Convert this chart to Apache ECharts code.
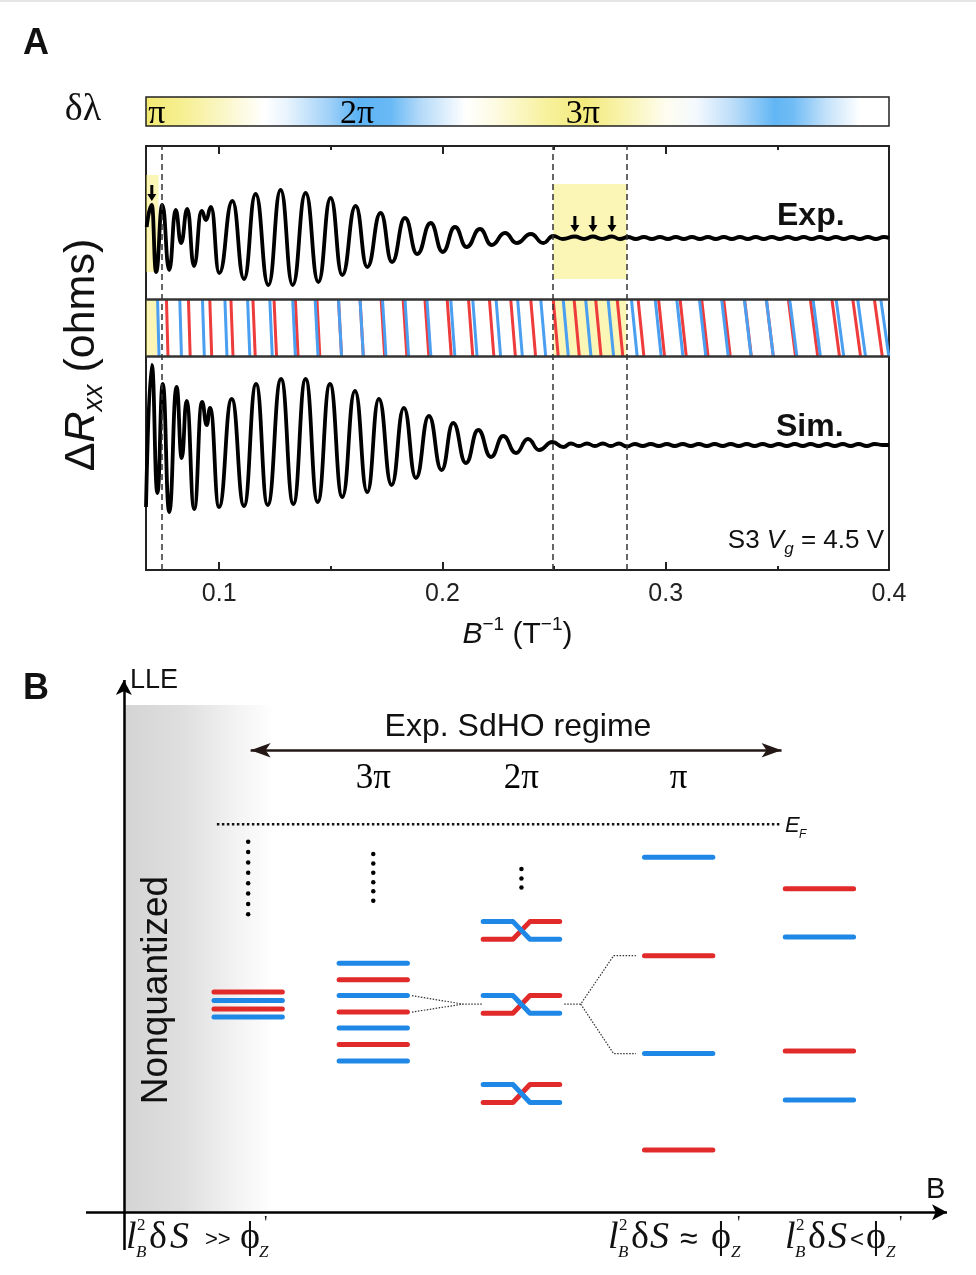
<!DOCTYPE html>
<html><head><meta charset="utf-8">
<script src="https://cdn.jsdelivr.net/npm/echarts@6/dist/echarts.min.js"></script>
<style>html,body{margin:0;padding:0;background:#fff}#c{width:976px;height:1275px}</style>
</head><body><div id="c"></div>
<script>
// ================= Panel A data =================
const xTickLabels = [0.1, 0.2, 0.3, 0.4];
const xMinorTicks = [0.15, 0.25, 0.35];
const topMajorTicks = [0.1, 0.2, 0.3];
const phaseLabels = ['π', '2π', '3π'];
const phaseLabelX = [0.0721, 0.1617, 0.2629];
// ΔRxx traces (B^-1 in T^-1, arbitrary ΔR units)
const expData = [
[0.0675,343],[0.0698,365],[0.0717,298],[0.0745,365],[0.0776,300],[0.0805,360],[0.0829,327],[0.0857,361],[0.0887,304],[0.0921,359],[0.0941,350],[0.0963,363],[0.1000,297],[0.1059,369],[0.1111,291],[0.1163,376],[0.1220,285],[0.1275,380],[0.1329,285],[0.1387,377],[0.1444,288],[0.1499,372],[0.1551,295],[0.1611,364],[0.1663,303],[0.1723,357],[0.1774,308],[0.1832,352],[0.1887,316],[0.1947,347],[0.2001,318],[0.2056,343],[0.2108,323],[0.2168,341],[0.2220,325],[0.2280,337],[0.2332,327],[0.2396,336],[0.2451,327],[0.2496,334],
[0.2539,331],[0.2593,333.5],[0.2634,331],[0.2674,333.5],[0.2714,331],[0.2759,333.5],[0.2795,331],[0.2831,333],[0.2866,331],[0.2902,333],[0.2938,331],[0.2974,333],[0.3010,331],[0.3045,333],[0.3081,331],[0.3117,333],[0.3153,331],[0.3189,333],[0.3224,331],[0.3260,333],[0.3296,331],[0.3332,333],[0.3368,331],[0.3403,333],[0.3439,331],[0.3475,333],[0.3511,331],[0.3547,333],[0.3582,331],[0.3618,333],[0.3654,331],[0.3690,333],[0.3726,331],[0.3762,333],[0.3798,331],[0.3833,333],[0.3869,331],[0.3905,333],[0.3941,331],[0.3977,333],[0.4000,332]
];
const simData = [
[0.0672,63],[0.0698,205],[0.0723,77],[0.0747,186],[0.0776,58],[0.0809,183],[0.0832,112],[0.0854,169],[0.0888,61],[0.0923,168],[0.0944,145],[0.0959,162],[0.0999,63],[0.1056,171],[0.1111,64],[0.1165,186],[0.1217,65],[0.1277,191],[0.1332,66],[0.1387,191],[0.1441,68],[0.1496,186],[0.1551,73],[0.1608,179],[0.1663,78],[0.1715,171],[0.1772,85],[0.1827,162],[0.1881,92],[0.1939,154],[0.1996,100],[0.2048,147],[0.2105,107],[0.2160,140],[0.2217,113],[0.2272,134],[0.2329,117],[0.2383,131],[0.2433,120],[0.2492,128],[0.2541,123],
[0.2575,126.5],[0.2611,124],[0.2647,126.5],[0.2683,124],[0.2718,126.5],[0.2754,124],[0.2790,126.5],[0.2826,123.5],[0.2861,126],[0.2897,124],[0.2933,126],[0.2969,124],[0.3005,126],[0.3040,124],[0.3076,126],[0.3112,124],[0.3148,126],[0.3184,124],[0.3219,126],[0.3255,124],[0.3291,126],[0.3327,124],[0.3363,126],[0.3398,124],[0.3434,126],[0.3470,124],[0.3506,126],[0.3542,124],[0.3578,126],[0.3614,124],[0.3649,126],[0.3685,124],[0.3721,126],[0.3757,124],[0.3793,126],[0.3828,124],[0.3864,126],[0.3900,124],[0.3936,126],[0.3972,125],[0.4000,125]
];
// Landau-level positions (B^-1) of the two spin species
const redLevelsInvB = [0.0767,0.0866,0.0962,0.1057,0.1156,0.1251,0.1347,0.1444,0.1541,0.1638,0.1733,0.1832,0.1930,0.2030,0.2126,0.2220,0.2316,0.2406,0.2507,0.2601,0.2698,0.2795,0.2889,0.2981,0.3078,0.3175,0.3274,0.3368,0.3466,0.3565,0.3664,0.3761,0.3855,0.3952];
const blueLevelsInvB = [0.0727,0.0827,0.0929,0.1030,0.1132,0.1232,0.1335,0.1436,0.1541,0.1638,0.1739,0.1840,0.1939,0.2046,0.2145,0.2250,0.2347,0.2451,0.2552,0.2653,0.2754,0.2859,0.2966,0.3063,0.3165,0.3265,0.3367,0.3466,0.3571,0.3676,0.3780,0.3877,0.3981];
const dashedLinesX = [0.0742, 0.2496, 0.2825];
const expArrows = [[0.0698, 377], [0.2593, 346], [0.2674, 346], [0.2759, 346]];
const highlightRanges = [[0.0672, 0.0728], [0.2496, 0.2825]];

// ================= Panel B data (schematic units) =================
const columnLabels = ['3π', '2π', 'π'];
const columnLabelX = [30.3, 48.3, 67.4];
const col0Red = [41.4, 38.2], col0Blue = [39.8, 36.7];
const col1Blue = [46.8, 40.7, 34.6, 28.4], col1Red = [43.7, 37.6, 31.5];
const col2Pairs = [[54.6, 51.3], [40.7, 37.4], [24.0, 20.6]];
const col3Blue = [66.7, 29.8], col3Red = [48.2, 11.7];
const col4Red = [60.8, 30.3], col4Blue = [51.7, 21.1];
const columnX = [15.1, 30.3, 48.3, 67.4, 84.5];
const dotsCol0 = [69.6, 67.7, 65.7, 63.8, 61.8, 59.9, 57.9, 56.0];
const dotsCol1 = [67.3, 65.5, 63.8, 62.0, 60.3, 58.5];
const dotsCol2 = [64.5, 62.7, 61.0];
const fermiLine = [[11.3, 72.9], [79.9, 72.9]];
const connA1 = [[35.0, 40.7], [41.2, 39.1], [43.6, 39.1]];
const connA2 = [[35.0, 37.6], [41.2, 39.1]];
const connB1 = [[53.5, 39.1], [55.5, 39.1], [59.5, 48.2], [62.2, 48.2]];
const connB2 = [[55.5, 39.1], [59.5, 29.8], [62.2, 29.8]];
const regimeArrow = [[15.4, 86.8], [79.9, 86.8]];

// ================= styling =================
const SANS = '"Liberation Sans", Arial, Helvetica, sans-serif';
const SERIF = '"Liberation Serif", "Times New Roman", "DejaVu Serif", serif';
const RED = '#ee3b3b', BLUE = '#4a9ff0';
const RED_B = '#e12a2a', BLUE_B = '#1f88e6';
const XMIN = 0.0672, XMAX = 0.4;
const BAND_TOP = 271, BAND_BOT = 214;
const BX_MIN = -4.6, BY_MIN = -7.1;

const levelData = [];
col0Red.forEach(e => levelData.push([columnX[0], e, 0]));
col0Blue.forEach(e => levelData.push([columnX[0], e, 1]));
col1Red.forEach(e => levelData.push([columnX[1], e, 0]));
col1Blue.forEach(e => levelData.push([columnX[1], e, 1]));
col3Red.forEach(e => levelData.push([columnX[3], e, 0]));
col3Blue.forEach(e => levelData.push([columnX[3], e, 1]));
col4Red.forEach(e => levelData.push([columnX[4], e, 0]));
col4Blue.forEach(e => levelData.push([columnX[4], e, 1]));

const stripeData = redLevelsInvB.map(v => [v, 0]).concat(blueLevelsInvB.map(v => [v, 1]));

function txt(x, y, s, size, o) {
  o = o || {};
  return { type: 'text', x: x, y: y, rotation: o.rot || 0, silent: true, z: 50,
    style: Object.assign({ text: s, fontSize: size, fontFamily: o.ff || SERIF,
      fontStyle: o.it ? 'italic' : 'normal', fontWeight: o.bold ? 'bold' : 'normal',
      fill: o.color || '#111', align: o.align || 'left', verticalAlign: 'middle' }, o.style || {}) };
}
function formula(xs, mid, rel) {
  // xs: x positions of [l, 2/B, δ, S, rel, ϕ, ', Z]
  return [
    txt(xs[0], mid, 'l', 38, { it: true }),
    txt(xs[1], mid - 12, '2', 17),
    txt(xs[1] - 1, mid + 15, 'B', 17, { it: true }),
    txt(xs[2], mid, 'δ', 38),
    txt(xs[3], mid, 'S', 38, { it: true }),
    txt(xs[4], mid + 2, rel[0], rel[1], { ff: SANS }),
    txt(xs[5], mid, 'ϕ', 38),
    txt(xs[6], mid - 14, "'", 19),
    txt(xs[7], mid + 15, 'Z', 17, { it: true })
  ];
}

const chart = echarts.init(document.getElementById('c'));
const option = {
  animation: false,
  backgroundColor: '#fff',
  grid: [
    { left: 146, right: 87, top: 97, height: 29, show: true, borderColor: '#222', borderWidth: 1.5,
      outerBoundsMode: 'none',
      backgroundColor: { type: 'linear', x: 0, y: 0, x2: 1, y2: 0, colorStops: [
        { offset: 0, color: '#f3ea72' }, { offset: 0.05, color: '#f6ef92' }, { offset: 0.10, color: '#faf6c2' },
        { offset: 0.16, color: '#ffffff' }, { offset: 0.19, color: '#e9f4fd' }, { offset: 0.25, color: '#9ccff8' },
        { offset: 0.285, color: '#5cb3f4' }, { offset: 0.33, color: '#69b9f5' }, { offset: 0.37, color: '#b4daf9' },
        { offset: 0.43, color: '#ffffff' }, { offset: 0.47, color: '#fdfbe2' }, { offset: 0.54, color: '#f7f19c' },
        { offset: 0.59, color: '#f3ea7c' }, { offset: 0.64, color: '#f8f3ac' }, { offset: 0.70, color: '#fefdf0' },
        { offset: 0.74, color: '#f4f9fe' }, { offset: 0.79, color: '#bbddf9' }, { offset: 0.845, color: '#62b6f4' },
        { offset: 0.87, color: '#70bcf5' }, { offset: 0.915, color: '#c4e2fa' }, { offset: 0.96, color: '#ffffff' },
        { offset: 1, color: '#ffffff' } ] } },
    { left: 146, right: 87, top: 146, height: 424, show: true, borderColor: '#222', borderWidth: 2,
      backgroundColor: 'rgba(0,0,0,0)', outerBoundsMode: 'none' },
    { left: 86, right: 29, top: 680, height: 570, show: false, outerBoundsMode: 'none' }
  ],
  xAxis: [
    { gridIndex: 0, type: 'value', min: XMIN, max: XMAX, show: false },
    { gridIndex: 1, type: 'value', min: XMIN, max: XMAX, position: 'bottom',
      axisLine: { show: false }, splitLine: { show: false },
      axisTick: { show: true, inside: true, length: 8, customValues: xTickLabels, lineStyle: { color: '#222', width: 2 } },
      axisLabel: { show: true, customValues: xTickLabels, fontSize: 25, color: '#222', margin: 12, fontFamily: SANS,
        formatter: v => v.toFixed(1) },
      name: '{bi|B}{sup|−1}{n| (T}{sup|−1}{n|)}', nameLocation: 'middle', nameGap: 45,
      nameTextStyle: { fontFamily: SANS, color: '#111', fontSize: 30,
        rich: { bi: { fontSize: 30, fontStyle: 'italic', fontFamily: SANS, lineHeight: 40, color: '#111' },
                n: { fontSize: 30, fontFamily: SANS, lineHeight: 40, color: '#111' },
                sup: { fontSize: 19, fontFamily: SANS, lineHeight: 22, verticalAlign: 'top', color: '#111' } } } },
    { gridIndex: 1, type: 'value', min: XMIN, max: XMAX, position: 'bottom',
      axisLine: { show: false }, splitLine: { show: false }, axisLabel: { show: false },
      axisTick: { show: true, inside: true, length: 4, customValues: xMinorTicks, lineStyle: { color: '#222', width: 2 } } },
    { gridIndex: 1, type: 'value', min: XMIN, max: XMAX, position: 'top',
      axisLine: { show: false }, splitLine: { show: false }, axisLabel: { show: false },
      axisTick: { show: true, inside: true, length: 8, customValues: topMajorTicks, lineStyle: { color: '#222', width: 2 } } },
    { gridIndex: 1, type: 'value', min: XMIN, max: XMAX, position: 'top',
      axisLine: { show: false }, splitLine: { show: false }, axisLabel: { show: false },
      axisTick: { show: true, inside: true, length: 4, customValues: xMinorTicks, lineStyle: { color: '#222', width: 2 } } },
    { gridIndex: 2, type: 'value', min: BX_MIN, max: 100, show: false }
  ],
  yAxis: [
    { gridIndex: 0, type: 'value', min: 0, max: 1, show: false },
    { gridIndex: 1, type: 'value', min: 0, max: 424, show: false },
    { gridIndex: 2, type: 'value', min: BY_MIN, max: 100, show: false }
  ],
  series: [
    // phase labels in δλ bar
    { type: 'scatter', xAxisIndex: 0, yAxisIndex: 0, silent: true, symbolSize: 0, itemStyle: { opacity: 1 },
      data: phaseLabelX.map((x, i) => [x, 0.42, phaseLabels[i]]),
      label: { show: true, position: 'inside', formatter: p => p.data[2], fontFamily: SERIF, fontSize: 34, color: '#000',
        textBorderWidth: 0 } },
    // stripes
    { type: 'custom', xAxisIndex: 1, yAxisIndex: 1, silent: true, z: 2, data: stripeData,
      renderItem: (params, api) => {
        const v = api.value(0), tilt = 0.009 * v;
        const p1 = api.coord([v - tilt / 2, BAND_TOP]);
        const p2 = api.coord([v + tilt / 2, BAND_BOT]);
        return { type: 'line', shape: { x1: p1[0], y1: p1[1], x2: p2[0], y2: p2[1] },
          style: { stroke: api.value(1) ? BLUE : RED, lineWidth: 3 } };
      } },
    // Exp trace
    { type: 'line', xAxisIndex: 1, yAxisIndex: 1, data: expData, smooth: 0.5, smoothMonotone: 'x', showSymbol: false,
      silent: true, z: 3, lineStyle: { color: '#000', width: 3.8 } },
    // Sim trace
    { type: 'line', xAxisIndex: 1, yAxisIndex: 1, data: simData, smooth: 0.5, smoothMonotone: 'x', showSymbol: false,
      silent: true, z: 3, lineStyle: { color: '#000', width: 3.8 } },
    // band borders & dashed guides
    { type: 'line', xAxisIndex: 1, yAxisIndex: 1, data: [], z: 4, silent: true,
      markLine: { silent: true, symbol: 'none', precision: 5, label: { show: false },
        data: [
          { yAxis: BAND_TOP, lineStyle: { type: 'solid', color: '#333', width: 2.5 } },
          { yAxis: BAND_BOT, lineStyle: { type: 'solid', color: '#333', width: 2.5 } }
        ].concat(dashedLinesX.map(x => ({ xAxis: x, lineStyle: { type: [6, 4], color: '#333', width: 1.5 } }))) } },
    // arrows
    { type: 'scatter', xAxisIndex: 1, yAxisIndex: 1, data: expArrows, silent: true, z: 5,
      symbol: 'path://M3,0 L6,0 L6,9 L9,9 L4.5,16 L0,9 L3,9 Z', symbolSize: [9, 16],
      itemStyle: { color: '#000', opacity: 1 } },
    // yellow highlight overlays
    { type: 'line', xAxisIndex: 1, yAxisIndex: 1, data: [], z: 10, silent: true,
      markArea: { silent: true, itemStyle: { color: 'rgba(245,232,80,0.42)' },
        data: [
          [{ coord: [highlightRanges[0][0], 298] }, { coord: [highlightRanges[0][1], 395] }],
          [{ coord: [highlightRanges[0][0], BAND_BOT] }, { coord: [0.0721, BAND_TOP] }],
          [{ coord: [highlightRanges[1][0], 291] }, { coord: [highlightRanges[1][1], 386] }],
          [{ coord: [highlightRanges[1][0], BAND_BOT] }, { coord: [highlightRanges[1][1], BAND_TOP] }]
        ] } },

    // ===== Panel B =====
    { type: 'line', xAxisIndex: 5, yAxisIndex: 2, data: [], z: 1, silent: true,
      markArea: { silent: true,
        itemStyle: { color: { type: 'linear', x: 0, y: 0, x2: 1, y2: 0, colorStops: [
          { offset: 0, color: '#d4d4d4' }, { offset: 0.4, color: '#dfdfdf' }, { offset: 0.75, color: '#f3f3f3' }, { offset: 1, color: '#ffffff' } ] } },
        data: [[{ coord: [0, 0] }, { coord: [18.3, 95.3] }]] } },
    { type: 'line', xAxisIndex: 5, yAxisIndex: 2, data: [], z: 6, silent: true,
      markLine: { silent: true, precision: 4, label: { show: false }, symbol: ['none', 'arrow'], symbolSize: [12, 15],
        lineStyle: { color: '#000', width: 2.5, type: 'solid' },
        data: [
          [{ coord: [0, BY_MIN] }, { coord: [0, 100] }],
          [{ coord: [BX_MIN, 0] }, { coord: [100, 0] }]
        ] } },
    { type: 'line', xAxisIndex: 5, yAxisIndex: 2, data: [], z: 6, silent: true,
      markLine: { silent: true, precision: 4, label: { show: false }, symbol: ['arrow', 'arrow'], symbolSize: [11, 20],
        lineStyle: { color: '#231815', width: 2.5, type: 'solid' },
        data: [[{ coord: regimeArrow[0] }, { coord: regimeArrow[1] }]] } },
    { type: 'line', xAxisIndex: 5, yAxisIndex: 2, data: fermiLine, showSymbol: false, silent: true, z: 5,
      lineStyle: { color: '#111', width: 2.5, type: [2.5, 2.5] } },
    ...[connA1, connA2, connB1, connB2].map(d => ({ type: 'line', xAxisIndex: 5, yAxisIndex: 2, data: d,
      showSymbol: false, silent: true, z: 5, lineStyle: { color: '#333', width: 1.2, type: [1.5, 1.5] } })),
    { type: 'scatter', xAxisIndex: 5, yAxisIndex: 2, silent: true, symbolSize: 4.5, itemStyle: { color: '#000', opacity: 1 }, z: 5,
      data: dotsCol0.map(y => [columnX[0], y]).concat(dotsCol1.map(y => [columnX[1], y]), dotsCol2.map(y => [columnX[2], y])) },
    { type: 'scatter', xAxisIndex: 5, yAxisIndex: 2, silent: true, symbolSize: 0, itemStyle: { opacity: 1 },
      data: columnLabelX.map((x, i) => [x, 81.4, columnLabels[i]]),
      label: { show: true, position: 'inside', formatter: p => p.data[2], fontFamily: SERIF, fontSize: 35, color: '#000',
        textBorderWidth: 0 } },
    { type: 'custom', xAxisIndex: 5, yAxisIndex: 2, silent: true, z: 7, data: levelData,
      renderItem: (params, api) => {
        const x = api.value(0), e = api.value(1), hw = 4.15;
        const p1 = api.coord([x - hw, e]), p2 = api.coord([x + hw, e]);
        return { type: 'line', shape: { x1: p1[0], y1: p1[1], x2: p2[0], y2: p2[1] },
          style: { stroke: api.value(2) ? BLUE_B : RED_B, lineWidth: 5, lineCap: 'round' } };
      } },
    { type: 'custom', xAxisIndex: 5, yAxisIndex: 2, silent: true, z: 7,
      data: col2Pairs.map(p => [columnX[2], p[0], p[1]]),
      renderItem: (params, api) => {
        const x = api.value(0), top = api.value(1), bot = api.value(2), hw = 4.65, d = 1.03;
        const c = pts => pts.map(p => api.coord(p));
        const redPts = c([[x - hw, bot], [x - d, bot], [x + d, top], [x + hw, top]]);
        const bluePts = c([[x - hw, top], [x - d, top], [x + d, bot], [x + hw, bot]]);
        return { type: 'group', children: [
          { type: 'polyline', shape: { points: redPts }, style: { stroke: RED_B, lineWidth: 5, lineCap: 'round', lineJoin: 'round', fill: null } },
          { type: 'polyline', shape: { points: bluePts }, style: { stroke: BLUE_B, lineWidth: 5, lineCap: 'round', lineJoin: 'round', fill: null } }
        ] };
      } }
  ],
  graphic: [
    { type: 'line', shape: { x1: 0, y1: 1, x2: 976, y2: 1 }, style: { stroke: '#dddddd', lineWidth: 1.5 }, silent: true },
    txt(23, 44, 'A', 36, { ff: SANS, bold: true }),
    txt(23, 689, 'B', 36, { ff: SANS, bold: true }),
    txt(83, 110, 'δλ', 38, { align: 'center' }),
    { type: 'text', x: 82, y: 355, rotation: Math.PI / 2, silent: true, z: 50,
      style: { text: '{n|Δ}{i|R}{s|xx}{n| (ohms)}', align: 'center', verticalAlign: 'middle', fill: '#111',
        fontFamily: SANS, fontSize: 43,
        rich: { n: { fontSize: 43, fontFamily: SANS, lineHeight: 52, fill: '#111' },
                i: { fontSize: 43, fontFamily: SANS, fontStyle: 'italic', lineHeight: 52, fill: '#111' },
                s: { fontSize: 27, fontFamily: SANS, fontStyle: 'italic', lineHeight: 28, verticalAlign: 'bottom', fill: '#111' } } } },
    txt(777, 216, 'Exp.', 32, { ff: SANS, bold: true }),
    txt(776, 427, 'Sim.', 32, { ff: SANS, bold: true }),
    { type: 'text', x: 884, y: 541, silent: true, z: 50,
      style: { text: '{n|S3 }{i|V}{s|g}{n| = 4.5 V}', align: 'right', verticalAlign: 'middle', fill: '#111',
        fontFamily: SANS, fontSize: 26,
        rich: { n: { fontSize: 26, fontFamily: SANS, lineHeight: 34, fill: '#111' },
                i: { fontSize: 26, fontFamily: SANS, fontStyle: 'italic', lineHeight: 34, fill: '#111' },
                s: { fontSize: 17, fontFamily: SANS, fontStyle: 'italic', lineHeight: 17, verticalAlign: 'bottom', fill: '#111' } } } },
    // Panel B texts
    txt(130, 681, 'LLE', 27, { ff: SANS }),
    txt(926, 1190, 'B', 29, { ff: SANS }),
    txt(518, 727, 'Exp. SdHO regime', 32, { ff: SANS, align: 'center' }),
    txt(157, 990, 'Nonquantized', 37, { ff: SANS, align: 'center', rot: Math.PI / 2 }),
    txt(785, 826, 'E', 22, { ff: SANS, it: true }),
    txt(799, 835, 'F', 12, { ff: SANS, it: true }),
    ...formula([126, 137, 149, 170, 205, 240, 264, 259], 1238, ['>>', 22]),
    ...formula([608, 619, 631, 650, 680, 711, 737, 731], 1238, ['≈', 32]),
    ...formula([785, 796, 808, 828, 850, 866, 899, 886], 1238, ['<', 24])
  ]
};
chart.setOption(option);
</script>
</body></html>
